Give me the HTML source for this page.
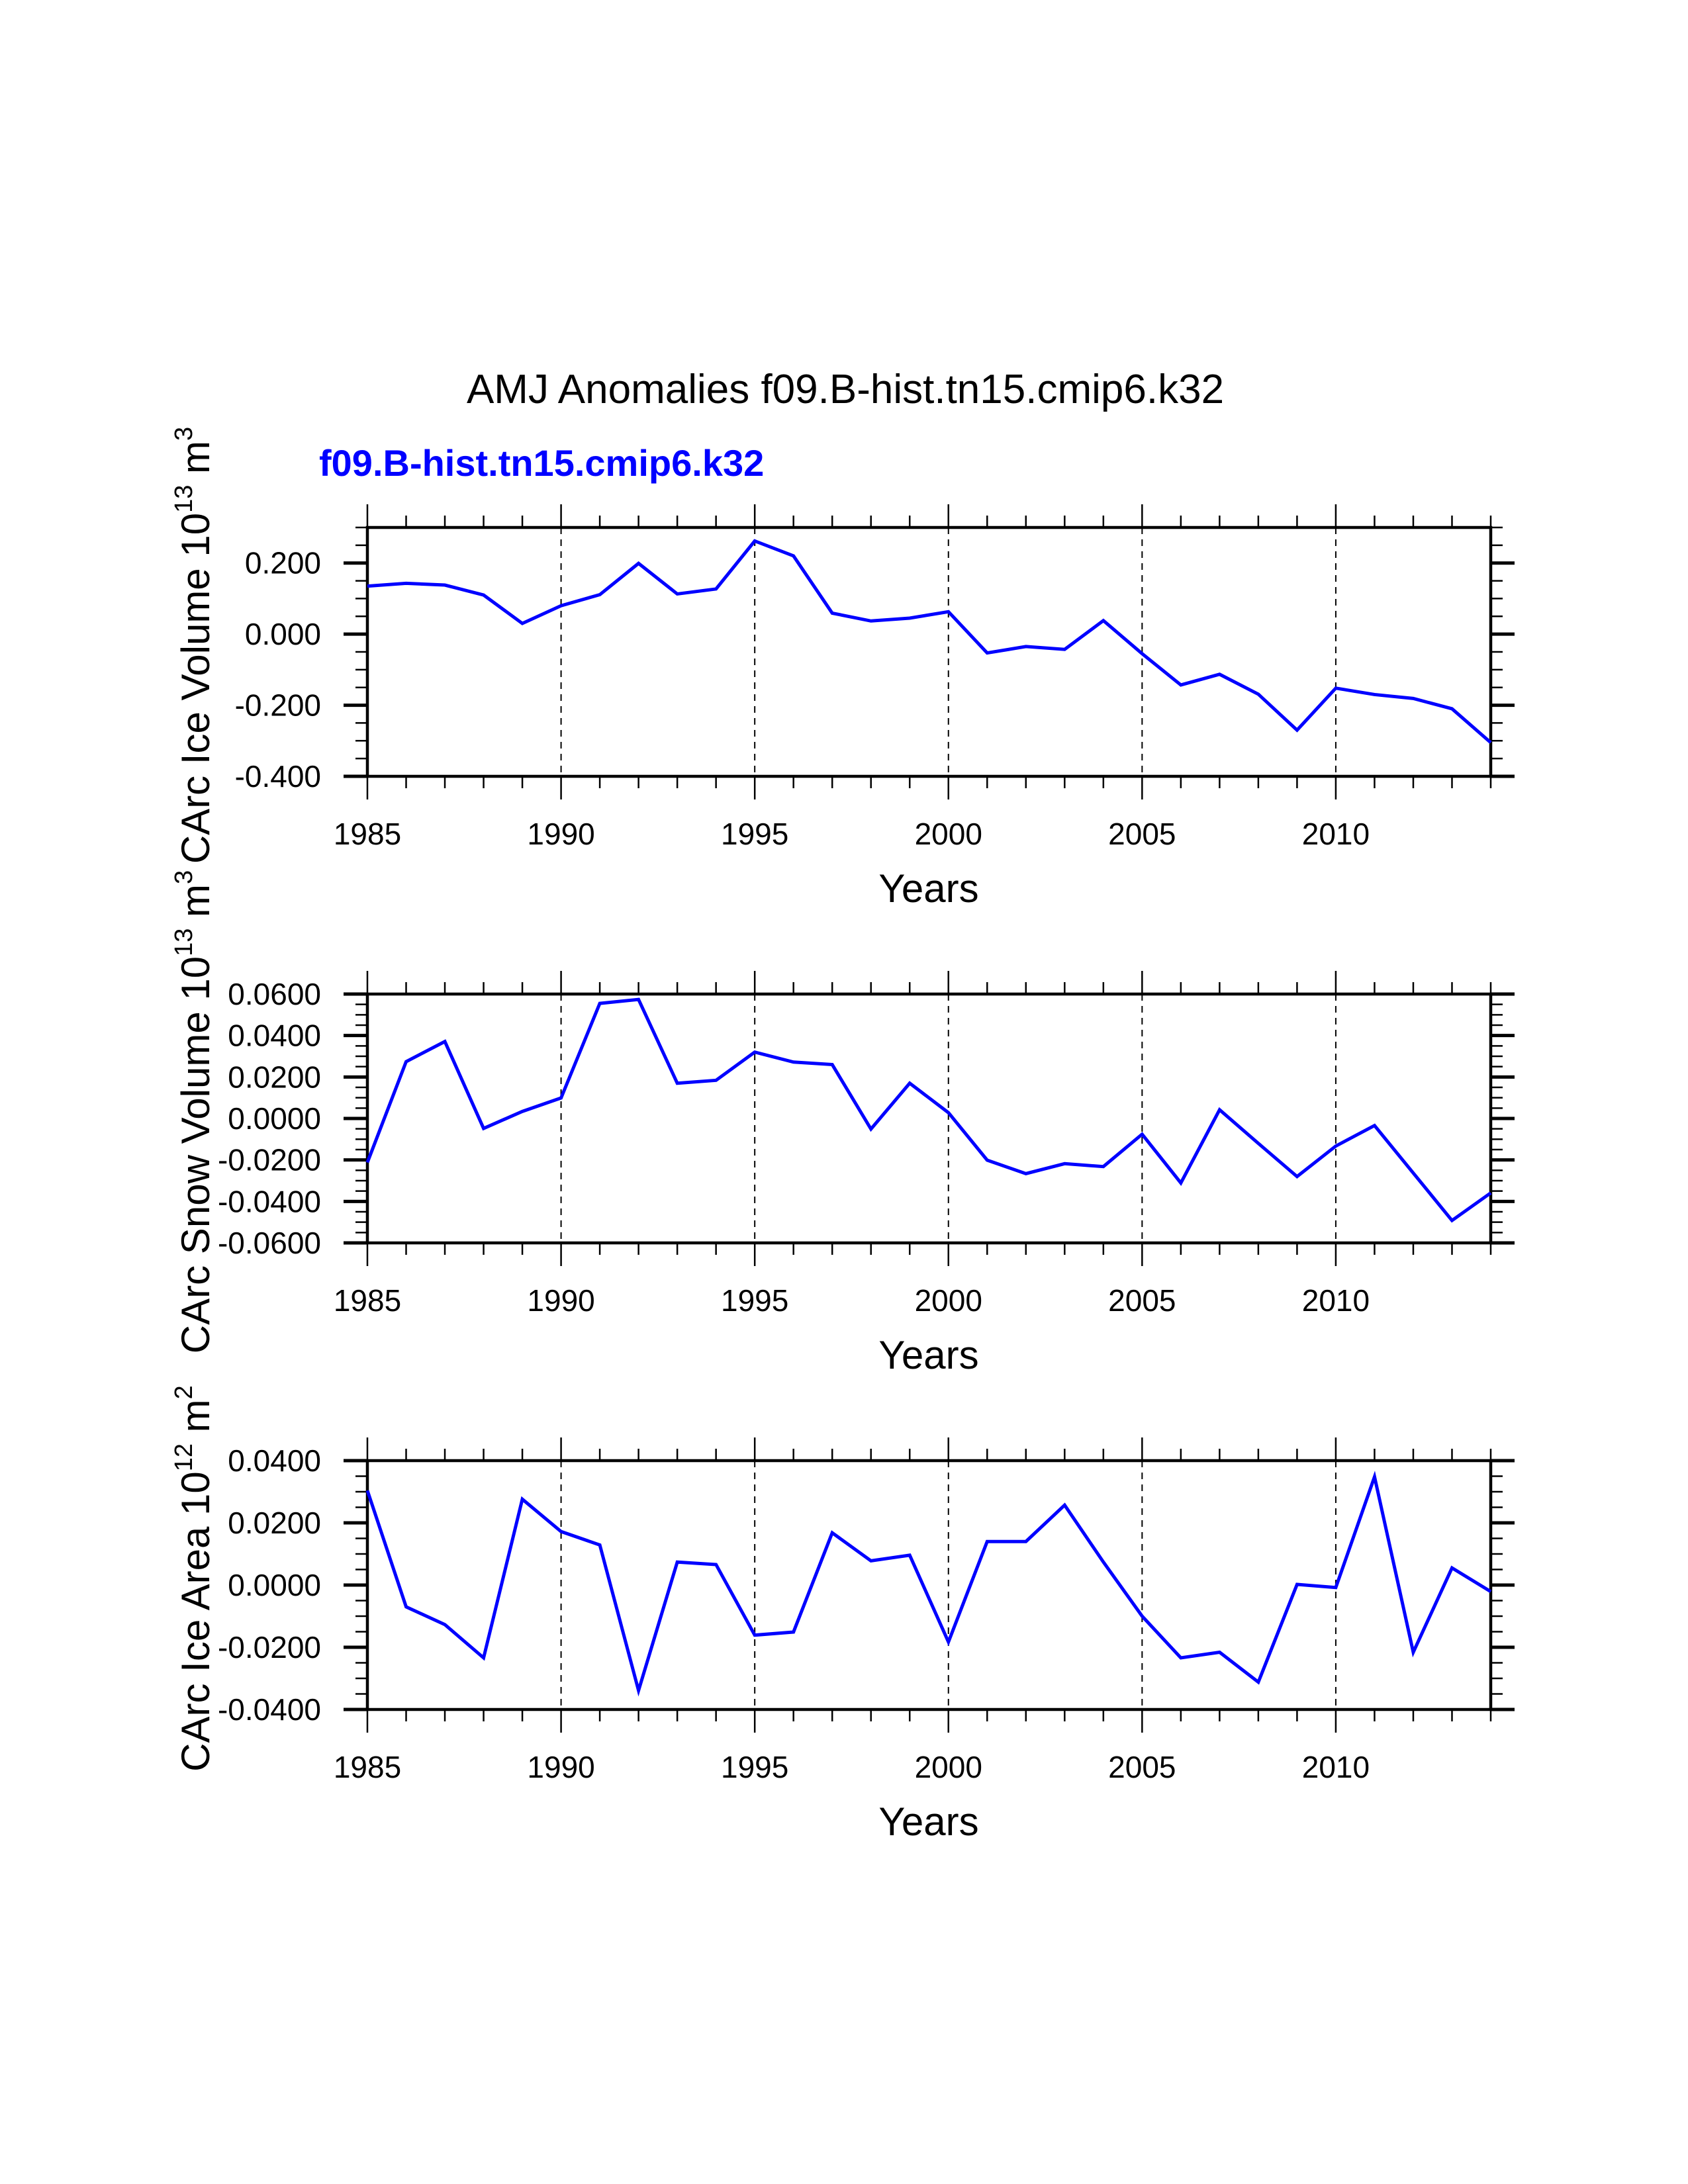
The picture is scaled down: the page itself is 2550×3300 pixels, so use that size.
<!DOCTYPE html>
<html><head><meta charset="utf-8"><style>
html,body{margin:0;padding:0;background:#fff;}
svg{display:block;font-family:"Liberation Sans",Arial,sans-serif;}
</style></head><body>
<svg id="chart" width="2550" height="3300" viewBox="0 0 2550 3300" xmlns="http://www.w3.org/2000/svg">
<rect width="2550" height="3300" fill="#fff"/>
<text x="1277" y="609" font-size="62" text-anchor="middle" fill="#000">AMJ Anomalies f09.B-hist.tn15.cmip6.k32</text>
<text x="482" y="719" font-size="56" font-weight="bold" fill="#0000ff">f09.B-hist.tn15.cmip6.k32</text>
</svg>
<script>
const years = [1985,1986,1987,1988,1989,1990,1991,1992,1993,1994,1995,1996,1997,1998,1999,2000,2001,2002,2003,2004,2005,2006,2007,2008,2009,2010,2011,2012,2013,2014];
const iceVolume = [0.135,0.143,0.138,0.110,0.030,0.080,0.111,0.199,0.113,0.127,0.262,0.220,0.059,0.037,0.045,0.063,-0.053,-0.035,-0.043,0.038,-0.055,-0.143,-0.113,-0.169,-0.270,-0.152,-0.170,-0.181,-0.210,-0.305];
const snowVolume = [-0.0212,0.0274,0.0371,-0.0048,0.0034,0.0099,0.0555,0.0574,0.0170,0.0184,0.0320,0.0272,0.0260,-0.0051,0.0170,0.0028,-0.0201,-0.0266,-0.0218,-0.0232,-0.0076,-0.0311,0.0042,-0.0120,-0.0280,-0.0133,-0.0034,-0.0263,-0.0492,-0.0359];
const iceArea = [0.0304,-0.0070,-0.0127,-0.0234,0.0276,0.0172,0.0129,-0.0339,0.0074,0.0066,-0.0161,-0.0151,0.0168,0.0078,0.0096,-0.0183,0.0140,0.0140,0.0257,0.0074,-0.0100,-0.0234,-0.0216,-0.0312,0.0002,-0.0008,0.0348,-0.0216,0.0055,-0.0021];
const xTickLabels = [1985,1990,1995,2000,2005,2010];
const iceVolTicks = [0.2,0.0,-0.2,-0.4];
const snowTicks = [0.06,0.04,0.02,0.0,-0.02,-0.04,-0.06];
const areaTicks = [0.04,0.02,0.0,-0.02,-0.04];

const NS="http://www.w3.org/2000/svg";
const svg=document.getElementById('chart');
function mk(tag,attrs,parent){const e=document.createElementNS(NS,tag);for(const k in attrs)e.setAttribute(k,attrs[k]);(parent||svg).appendChild(e);return e;}
const X0=555,X1=2252;
function xs(yr){return X0+(yr-1985)*(X1-X0)/(2014-1985);}

function panel(key,top,ymin,ymax,ticks,dec,minorStep,values,label,exp,unit){
  const bot=top+376;
  const g=mk('g',{});
  
  
  const ys=v=>bot-(v-ymin)*(bot-top)/(ymax-ymin);
  for(let yr=1990;yr<=2010;yr+=5){
    const l=mk('line',{x1:xs(yr),x2:xs(yr),y1:top,y2:bot,stroke:'#000','stroke-width':2,'stroke-dasharray':'10 8'},g);
    
    
  }
  for(let yr=1985;yr<=2014;yr++){
    const major=(yr%5===0), len=major?35:18, x=xs(yr);
    mk('line',{x1:x,x2:x,y1:top,y2:top-len,stroke:'#000','stroke-width':2.5},g);
    mk('line',{x1:x,x2:x,y1:bot,y2:bot+len,stroke:'#000','stroke-width':2.5},g);
  }
  const n=Math.round((ymax-ymin)/minorStep);
  for(let i=0;i<=n;i++){
    const v=ymin+i*minorStep, y=ys(v);
    const major=ticks.some(t=>Math.abs(t-v)<minorStep/10);
    const len=major?36:18, w=major?5:2.5;
    mk('line',{x1:X0,x2:X0-len,y1:y,y2:y,stroke:'#000','stroke-width':w},g);
    mk('line',{x1:X1,x2:X1+len,y1:y,y2:y,stroke:'#000','stroke-width':w},g);
  }
  ticks.forEach(t=>{
    const tx=mk('text',{x:485,y:ys(t)+16,'font-size':46,'text-anchor':'end'},g);
    
    
    tx.textContent=t.toFixed(dec);
  });
  xTickLabels.forEach(yr=>{
    const tx=mk('text',{x:xs(yr),y:bot+103,'font-size':46,'text-anchor':'middle'},g);
    
    
    tx.textContent=yr;
  });
  const fr=mk('rect',{x:X0,y:top,width:X1-X0,height:bot-top,fill:'none',stroke:'#000','stroke-width':4.5},g);
  
  
  const pts=years.map((yr,i)=>xs(yr)+','+ys(values[i])).join(' ');
  const pl=mk('polyline',{points:pts,fill:'none',stroke:'#0000ff','stroke-width':5,'stroke-linejoin':'miter'},g);
  
  
  const xt=mk('text',{x:1403,y:bot+190,'font-size':60,'text-anchor':'middle'},g);
  
  
  xt.textContent='Years';
  const cy=(top+bot)/2-10;
  const yt=mk('text',{x:0,y:0,'font-size':60,'text-anchor':'middle',transform:'translate(316,'+cy+') rotate(-90)'},g);
  
  
  yt.appendChild(document.createTextNode(label+' 10'));
  const s1=mk('tspan',{'font-size':38,dy:-26},yt); s1.textContent=exp;
  const s2=mk('tspan',{dy:26},yt); s2.textContent=' m';
  const s3=mk('tspan',{'font-size':38,dy:-26},yt); s3.textContent=unit;
}
panel('ice-volume',797,-0.4,0.3,iceVolTicks,3,0.05,iceVolume,'CArc Ice Volume','13','3');
panel('snow-volume',1502,-0.06,0.06,snowTicks,4,0.005,snowVolume,'CArc Snow Volume','13','3');
panel('ice-area',2207,-0.04,0.04,areaTicks,4,0.005,iceArea,'CArc Ice Area','12','2');
</script>
</body></html>
